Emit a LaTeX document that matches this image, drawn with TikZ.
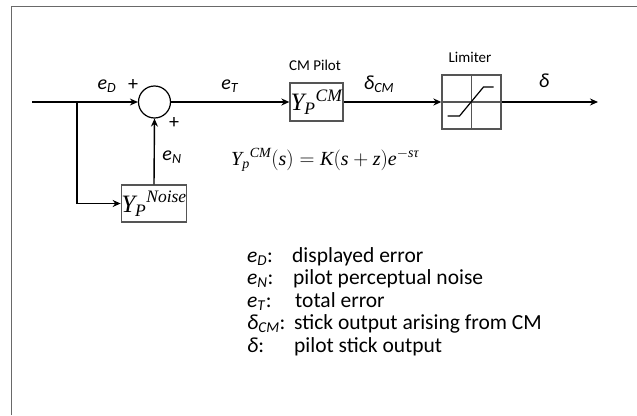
\documentclass[tikz,border=0pt]{standalone}
\usepackage{amsmath}
\usepackage{fontspec}
\setmainfont{Carlito}
\newfontfamily\tnr{Liberation Serif}
\usetikzlibrary{arrows.meta,positioning}
\definecolor{frameGray}{RGB}{105,105,105}
\definecolor{boxGray}{RGB}{85,85,85}
\newcommand{\tm}[1]{\text{\tnr\itshape #1}}
\newcommand{\sigl}[2]{\textit{#1}\textsubscript{\textit{#2}}}

\begin{document}
\begin{tikzpicture}[x=1pt,y=-1pt,
  font=\fontsize{20}{24}\selectfont,
  flow/.style={-{Stealth[length=8pt,width=7pt]}, line width=1.4pt},
  blockbox/.style={draw=boxGray, line width=1.3pt, inner sep=0pt},
  sumnode/.style={draw, circle, line width=1.2pt, minimum size=32pt, inner sep=0pt},
  tag/.style={font=\fontsize{15}{18}\selectfont},
  legend/.style={anchor=base west, inner sep=0pt, font=\fontsize{21.5}{24}\selectfont}]
\useasboundingbox (0,0) rectangle (637,415);
% frame
\draw[frameGray, line width=1.8pt] (11.5,415) -- (11.5,6.5) -- (637,6.5);

% blocks
\node[sumnode] (sum) at (154.5,102) {};
\node[blockbox, minimum width=64pt, minimum height=37pt] (noise) at (154,203.5)
  {\fontsize{25}{25}\selectfont ${\tm{Y}_{\tm{P}}}^{\tm{Noise}}$};
\node[blockbox, minimum width=53pt, minimum height=38pt] (cm) at (316.5,102)
  {\fontsize{25}{25}\selectfont ${\tm{Y}_{\tm{P}}}^{\tm{CM}}$};
\node[blockbox, minimum width=59pt, minimum height=54pt] (lim) at (471.5,102) {};
\draw[boxGray, line width=1.3pt] (lim.north) -- (lim.south) (lim.west) -- (lim.east);
\draw[line width=1.2pt, shift={(lim.center)}] (-24,14) -- (-12,14) -- (12,-15) -- (22,-15);

% signals
\coordinate (in) at (32,102);
\coordinate (split) at (77,102);
\coordinate (out) at (598,102);
\draw[line width=1.4pt] (in) -- (split);
\draw[flow] (split) -- (sum.west);
\draw[flow] (split) |- (noise.west);
\draw[flow] (noise.north) -- (sum.south);
\draw[flow] (sum.east) -- (cm.west);
\draw[flow] (cm.east) -- (lim.west);
\draw[flow] (lim.east) -- (out);

% labels
\node (eD) at (107,86) {\sigl{e}{D}};
\node (plusD) at (133,85) {+};
\node (plusN) at (174,123) {+};
\node (eN) at (172,157) {\sigl{e}{N}};
\node (eT) at (230,86) {\sigl{e}{T}};
\node[tag] (cmtag) at (315,65) {CM Pilot};
\node (dCM) at (379,84) {\sigl{δ}{CM}};
\node[tag] (limtag) at (470,57) {Limiter};
\node (dOut) at (544,81) {\textit{δ}};
\node[anchor=base west, inner sep=0pt] (law) at (231,165)
  {\fontsize{20}{24}\selectfont ${\tm{Y}_{\tm{p}}}^{\tm{CM}}(\tm{s}) = \tm{K}(\tm{s}+\tm{z})\tm{e}^{-\tm{s}\tm{τ}}$};

% legend
\node[legend] (kD) at (247,262) {\sigl{e}{D}:};
\node[legend] (vD) at (292,262) {displayed error};
\node[legend] (kN) at (247,284.5) {\sigl{e}{N}:};
\node[legend] (vN) at (293,284.5) {pilot perceptual noise};
\node[legend] (kT) at (247,307) {\sigl{e}{T}:};
\node[legend] (vT) at (295,307) {total error};
\node[legend] (kC) at (247,329.5) {\sigl{δ}{CM}:};
\node[legend] (vC) at (294,329.5) {stick output arising from CM};
\node[legend] (kS) at (247,352) {\textit{δ}:};
\node[legend] (vS) at (294,352) {pilot stick output};
\end{tikzpicture}
\end{document}
